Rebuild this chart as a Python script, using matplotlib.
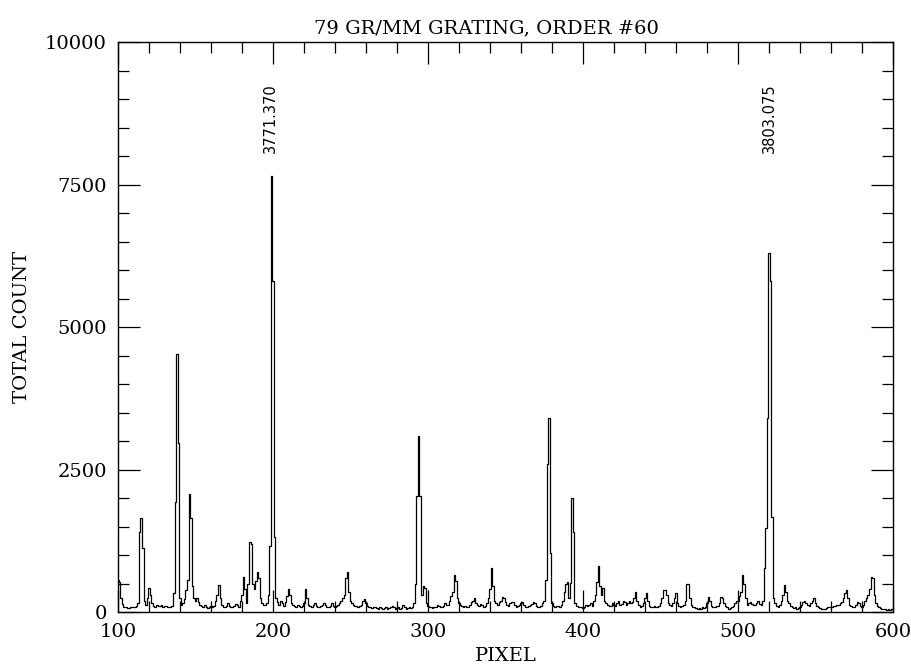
import numpy as np
import matplotlib
matplotlib.use('Agg')
import matplotlib.pyplot as plt
from matplotlib.ticker import MultipleLocator

pixel_inicio = 100
cuentas = [
    560, 520, 250, 140, 90, 80, 70, 70, 80, 90,              # 100
    80, 90, 100, 150, 1400, 1650, 1120, 200, 120, 250,       # 110
    420, 300, 150, 100, 90, 130, 110, 100, 120, 90,          # 120
    100, 110, 90, 80, 90, 110, 330, 1930, 4530, 2960,        # 130
    250, 120, 150, 220, 380, 560, 2070, 1650, 450, 250,      # 140
    200, 250, 180, 120, 100, 90, 120, 80, 70, 90,            # 150
    110, 80, 100, 200, 300, 470, 250, 120, 90, 80,           # 160
    100, 150, 110, 90, 80, 100, 140, 120, 90, 200,           # 170
    300, 620, 400, 150, 500, 1230, 1200, 500, 400, 550,      # 180
    700, 600, 250, 150, 120, 120, 150, 300, 1150, 7650,      # 190
    5800, 1320, 250, 180, 120, 200, 150, 100, 180, 280,      # 200
    400, 300, 150, 120, 100, 90, 130, 110, 90, 100,          # 210
    150, 400, 250, 120, 100, 90, 120, 150, 110, 90,          # 220
    80, 100, 130, 160, 120, 90, 80, 100, 150, 110,           # 230
    90, 100, 130, 150, 200, 250, 300, 600, 700, 350,         # 240
    200, 150, 130, 110, 100, 90, 100, 130, 200, 230,         # 250
    150, 110, 90, 80, 70, 80, 90, 70, 60, 80,                # 260
    70, 60, 70, 80, 60, 70, 90, 110, 80, 60,                 # 270
    70, 90, 60, 70, 120, 80, 60, 70, 90, 70,                 # 280
    80, 150, 500, 2030, 3080, 2030, 300, 450, 420, 150,      # 290
    100, 80, 90, 70, 80, 90, 120, 100, 80, 90,               # 300
    110, 150, 130, 120, 200, 280, 350, 650, 550, 250,        # 310
    150, 130, 110, 90, 100, 80, 90, 120, 180, 200,           # 320
    240, 150, 120, 100, 140, 120, 90, 110, 150, 250,         # 330
    400, 780, 450, 200, 150, 130, 170, 200, 260, 240,        # 340
    170, 130, 110, 150, 180, 170, 120, 90, 100, 130,         # 350
    160, 170, 120, 80, 90, 100, 120, 140, 170, 160,          # 360
    100, 80, 90, 100, 150, 200, 560, 2600, 3400, 1030,       # 370
    150, 100, 90, 110, 100, 90, 130, 200, 350, 500,          # 380
    530, 250, 510, 2000, 1400, 150, 100, 90, 80, 90,         # 390
    70, 90, 120, 100, 130, 150, 110, 200, 300, 530,          # 400
    800, 450, 300, 420, 200, 150, 120, 100, 110, 150,        # 410
    130, 100, 150, 190, 120, 140, 200, 170, 130, 160,        # 420
    200, 150, 180, 250, 350, 200, 120, 90, 100, 150,         # 430
    250, 330, 200, 110, 90, 80, 100, 90, 80, 110,            # 440
    150, 250, 380, 380, 300, 150, 120, 100, 150, 250,        # 450
    330, 150, 100, 90, 100, 130, 200, 500, 500, 250,         # 460
    120, 90, 80, 70, 60, 70, 60, 80, 70, 90,                 # 470
    150, 270, 200, 100, 80, 90, 100, 110, 150, 270,          # 480
    250, 150, 100, 80, 60, 70, 90, 100, 150, 200,            # 490
    200, 280, 350, 650, 500, 250, 120, 150, 180, 140,        # 500
    130, 120, 150, 200, 140, 130, 200, 770, 1470, 3400,      # 510
    6300, 5800, 1670, 250, 150, 100, 90, 120, 200, 300,      # 520
    470, 350, 200, 150, 100, 80, 70, 90, 60, 70,             # 530
    90, 120, 170, 200, 150, 120, 110, 150, 200, 240,         # 540
    150, 100, 80, 70, 60, 50, 60, 70, 80, 90,                # 550
    80, 90, 100, 110, 120, 130, 150, 180, 250, 330,          # 560
    380, 250, 130, 100, 80, 90, 120, 170, 150, 100,          # 570
    90, 130, 200, 250, 300, 400, 620, 600, 300, 150,         # 580
    100, 80, 70, 60, 50, 50, 40, 50, 40, 50, 50,             # 590
]
pixeles = np.arange(pixel_inicio, pixel_inicio + len(cuentas))

lineas_pix = [198.5, 520.5]
lineas_lbl = ['3771.370', '3803.075']
lineas_y = [8050, 8050]

# ─── ESTILO ──────────────────────────────────────────────────
plt.rcParams.update({
    'font.family': 'DejaVu Serif',
    'font.size': 14,
    'axes.linewidth': 1.0,
})

fig = plt.figure(figsize=(9.12, 6.69), dpi=100)
ax = fig.add_axes([0.1294, 0.0852, 0.8498, 0.852])

ax.step(pixeles, cuentas, where='mid', color='black', linewidth=0.9)

for px, lbl, yy in zip(lineas_pix, lineas_lbl, lineas_y):
    ax.text(px, yy, lbl, rotation=90, ha='center', va='bottom',
            fontsize=10.5, family='DejaVu Sans')

ax.set_xlim(100, 600)
ax.set_ylim(0, 10000)
ax.xaxis.set_major_locator(MultipleLocator(100))
ax.xaxis.set_minor_locator(MultipleLocator(20))
ax.yaxis.set_major_locator(MultipleLocator(2500))
ax.yaxis.set_minor_locator(MultipleLocator(500))
ax.tick_params(which='both', direction='in', top=True, right=True,
               labelsize=14, width=0.9)
ax.tick_params(which='major', length=16, pad=8)
ax.tick_params(which='minor', length=8)

ax.set_xlabel('PIXEL', fontsize=14, labelpad=4)
ax.set_ylabel('TOTAL COUNT', fontsize=14, labelpad=10)
ax.set_title('79 GR/MM GRATING, ORDER #60', fontsize=14, pad=6, x=0.475)

plt.savefig('out.png', dpi=100)
